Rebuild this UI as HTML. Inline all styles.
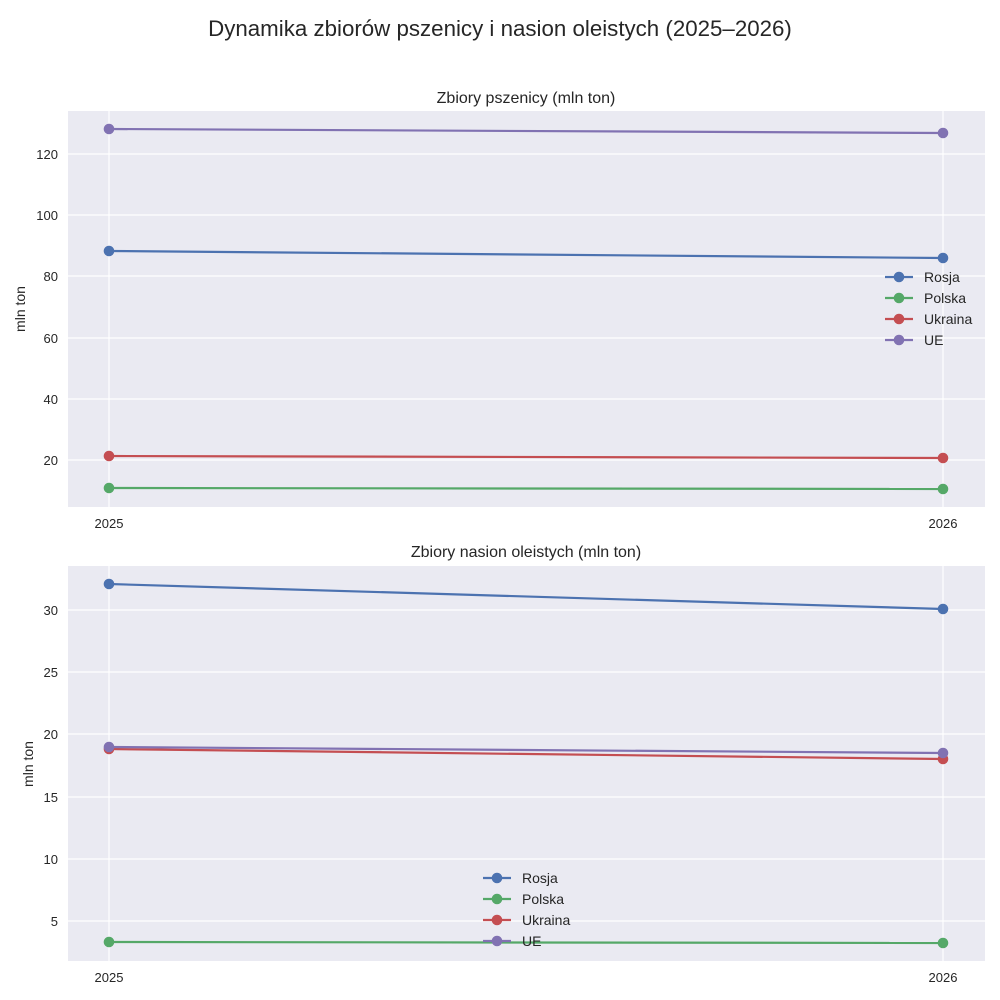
<!DOCTYPE html>
<html><head><meta charset="utf-8"><style>body{margin:0;background:#fff}svg{display:block;font-family:"Liberation Sans",sans-serif}</style></head>
<body>
<svg width="1000" height="1000" viewBox="0 0 1000 1000" xmlns="http://www.w3.org/2000/svg">
<rect width="1000" height="1000" fill="#fff"/>
<text x="500" y="36" font-size="22.3" text-anchor="middle" fill="#262626">Dynamika zbiorów pszenicy i nasion oleistych (2025–2026)</text>

<!-- top -->
<text x="526" y="103" font-size="16" text-anchor="middle" fill="#262626">Zbiory pszenicy (mln ton)</text>
<rect x="68" y="111" width="917" height="396" fill="#EAEAF2"/>
<g stroke="#fff" stroke-width="1.2">
<line x1="68" x2="985" y1="154" y2="154"/><line x1="68" x2="985" y1="215" y2="215"/><line x1="68" x2="985" y1="276" y2="276"/><line x1="68" x2="985" y1="338" y2="338"/><line x1="68" x2="985" y1="399" y2="399"/><line x1="68" x2="985" y1="460" y2="460"/>
<line x1="109" x2="109" y1="111" y2="507"/><line x1="943" x2="943" y1="111" y2="507"/>
</g>
<g font-size="13" fill="#262626" text-anchor="end">
<text x="58" y="159">120</text><text x="58" y="220">100</text><text x="58" y="281">80</text><text x="58" y="343">60</text><text x="58" y="404">40</text><text x="58" y="465">20</text>
</g>
<g font-size="13" fill="#262626" text-anchor="middle"><text x="109" y="528">2025</text><text x="943" y="528">2026</text></g>
<text transform="translate(25,309) rotate(-90)" font-size="14" text-anchor="middle" fill="#262626">mln ton</text>
<g stroke-width="2.2">
<g stroke="#8172B2" fill="#8172B2"><line x1="109" y1="129" x2="943" y2="133"/><circle cx="109" cy="129" r="4.2"/><circle cx="943" cy="133" r="4.2"/></g>
<g stroke="#4C72B0" fill="#4C72B0"><line x1="109" y1="251" x2="943" y2="258"/><circle cx="109" cy="251" r="4.2"/><circle cx="943" cy="258" r="4.2"/></g>
<g stroke="#C44E52" fill="#C44E52"><line x1="109" y1="456" x2="943" y2="458"/><circle cx="109" cy="456" r="4.2"/><circle cx="943" cy="458" r="4.2"/></g>
<g stroke="#55A868" fill="#55A868"><line x1="109" y1="488" x2="943" y2="489"/><circle cx="109" cy="488" r="4.2"/><circle cx="943" cy="489" r="4.2"/></g>
</g>
<g stroke-width="2.2" font-size="14" fill="#262626">
<g stroke="#4C72B0" fill="#4C72B0"><line x1="885" x2="913" y1="277" y2="277"/><circle cx="899" cy="277" r="4.2"/></g>
<g stroke="#55A868" fill="#55A868"><line x1="885" x2="913" y1="298" y2="298"/><circle cx="899" cy="298" r="4.2"/></g>
<g stroke="#C44E52" fill="#C44E52"><line x1="885" x2="913" y1="319" y2="319"/><circle cx="899" cy="319" r="4.2"/></g>
<g stroke="#8172B2" fill="#8172B2"><line x1="885" x2="913" y1="340" y2="340"/><circle cx="899" cy="340" r="4.2"/></g>
<text x="924" y="282">Rosja</text><text x="924" y="303">Polska</text><text x="924" y="324">Ukraina</text><text x="924" y="345">UE</text>
</g>

<!-- bottom -->
<text x="526" y="557" font-size="16" text-anchor="middle" fill="#262626">Zbiory nasion oleistych (mln ton)</text>
<rect x="68" y="566" width="917" height="395" fill="#EAEAF2"/>
<g stroke="#fff" stroke-width="1.2">
<line x1="68" x2="985" y1="610" y2="610"/><line x1="68" x2="985" y1="672" y2="672"/><line x1="68" x2="985" y1="734" y2="734"/><line x1="68" x2="985" y1="797" y2="797"/><line x1="68" x2="985" y1="859" y2="859"/><line x1="68" x2="985" y1="921" y2="921"/>
<line x1="109" x2="109" y1="566" y2="961"/><line x1="943" x2="943" y1="566" y2="961"/>
</g>
<g font-size="13" fill="#262626" text-anchor="end">
<text x="58" y="615">30</text><text x="58" y="677">25</text><text x="58" y="739">20</text><text x="58" y="802">15</text><text x="58" y="864">10</text><text x="58" y="926">5</text>
</g>
<g font-size="13" fill="#262626" text-anchor="middle"><text x="109" y="982">2025</text><text x="943" y="982">2026</text></g>
<text transform="translate(33,764) rotate(-90)" font-size="14" text-anchor="middle" fill="#262626">mln ton</text>
<g stroke-width="2.2">
<g stroke="#4C72B0" fill="#4C72B0"><line x1="109" y1="584" x2="943" y2="609"/><circle cx="109" cy="584" r="4.2"/><circle cx="943" cy="609" r="4.2"/></g>
<g stroke="#55A868" fill="#55A868"><line x1="109" y1="942" x2="943" y2="943"/><circle cx="109" cy="942" r="4.2"/><circle cx="943" cy="943" r="4.2"/></g>
<g stroke="#C44E52" fill="#C44E52"><line x1="109" y1="749" x2="943" y2="759"/><circle cx="109" cy="749" r="4.2"/><circle cx="943" cy="759" r="4.2"/></g>
<g stroke="#8172B2" fill="#8172B2"><line x1="109" y1="747" x2="943" y2="753"/><circle cx="109" cy="747" r="4.2"/><circle cx="943" cy="753" r="4.2"/></g>
</g>
<g stroke-width="2.2" font-size="14" fill="#262626">
<g stroke="#4C72B0" fill="#4C72B0"><line x1="483" x2="511" y1="878" y2="878"/><circle cx="497" cy="878" r="4.2"/></g>
<g stroke="#55A868" fill="#55A868"><line x1="483" x2="511" y1="899" y2="899"/><circle cx="497" cy="899" r="4.2"/></g>
<g stroke="#C44E52" fill="#C44E52"><line x1="483" x2="511" y1="920" y2="920"/><circle cx="497" cy="920" r="4.2"/></g>
<g stroke="#8172B2" fill="#8172B2"><line x1="483" x2="511" y1="941" y2="941"/><circle cx="497" cy="941" r="4.2"/></g>
<text x="522" y="883">Rosja</text><text x="522" y="904">Polska</text><text x="522" y="925">Ukraina</text><text x="522" y="946">UE</text>
</g>
</svg>
</body></html>
